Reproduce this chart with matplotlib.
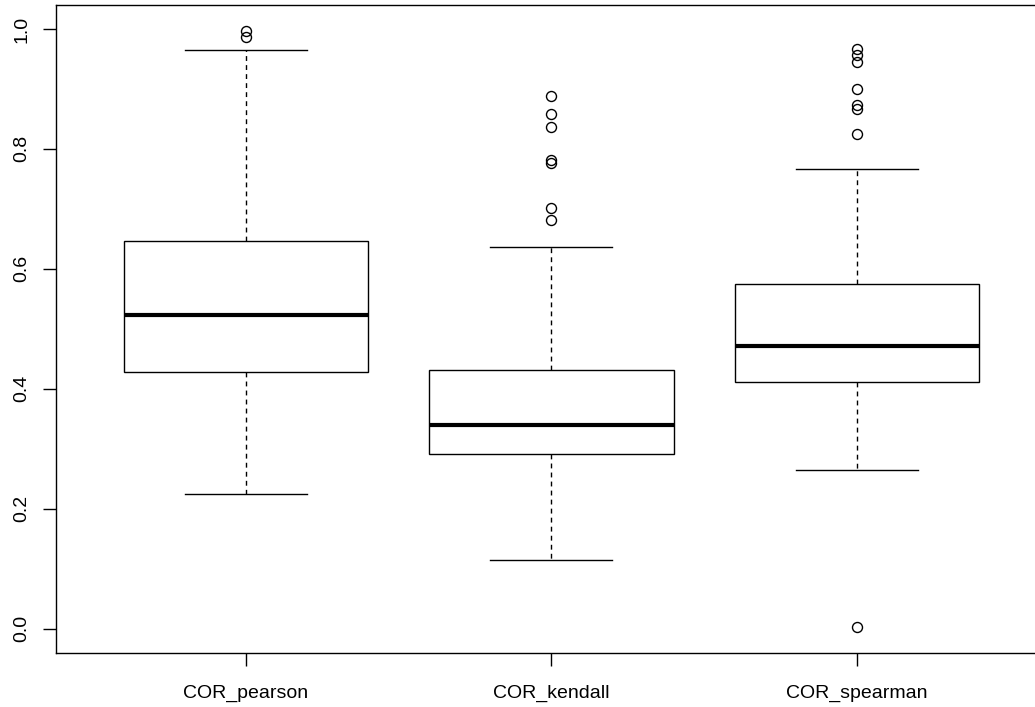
import matplotlib
matplotlib.use("Agg")
import matplotlib.pyplot as plt

plt.rcParams['font.family'] = ['Liberation Sans', 'DejaVu Sans']

# boxplot summary of the three correlation measures
labels = ['COR_pearson', 'COR_kendall', 'COR_spearman']
whis_lo = [0.224, 0.114, 0.265]
q1 = [0.428, 0.291, 0.411]
median = [0.523, 0.340, 0.472]
q3 = [0.646, 0.431, 0.575]
whis_hi = [0.965, 0.636, 0.766]
fliers_pearson = [0.996, 0.987]
fliers_kendall = [0.889, 0.858, 0.836, 0.782, 0.776, 0.702, 0.682]
fliers_spearman = [0.966, 0.957, 0.945, 0.900, 0.873, 0.867, 0.825, 0.003]
fliers = [fliers_pearson, fliers_kendall, fliers_spearman]

stats = []
for i in range(len(labels)):
    stats.append({'label': labels[i], 'whislo': whis_lo[i], 'q1': q1[i],
                  'med': median[i], 'q3': q3[i], 'whishi': whis_hi[i],
                  'fliers': fliers[i]})

fig = plt.figure(figsize=(10.35, 7.07), dpi=100)
# frame runs past the right edge like the R device output
ax = fig.add_axes([56.3 / 1035, (707 - 652.7) / 707, 990 / 1035, 647.7 / 707])

ax.bxp(stats, positions=[1, 2, 3], widths=0.8, capwidths=0.4, patch_artist=True,
       boxprops=dict(facecolor='white', edgecolor='black', linewidth=1.0),
       medianprops=dict(color='black', linewidth=3.0, solid_capstyle='butt'),
       whiskerprops=dict(color='black', linewidth=1.0, linestyle=(0, (3.5, 3))),
       capprops=dict(color='black', linewidth=1.0),
       flierprops=dict(marker='o', markerfacecolor='none', markeredgecolor='black',
                       markersize=7.2, markeredgewidth=1.0))

ax.set_xlim(0.38, 3.62)
ax.set_ylim(-0.04, 1.04)
ax.set_yticks([0.0, 0.2, 0.4, 0.6, 0.8, 1.0])
ax.set_yticklabels(['0.0', '0.2', '0.4', '0.6', '0.8', '1.0'], rotation=90, va='center')
ax.set_xticks([1, 2, 3])
ax.set_xticklabels(labels)
ax.tick_params(axis='both', length=9.4, width=1.0, labelsize=14, color='black')
ax.tick_params(axis='y', pad=9)
ax.tick_params(axis='x', pad=13.5)

for side in ['left', 'right', 'top', 'bottom']:
    ax.spines[side].set_linewidth(1.0)
    ax.spines[side].set_color('black')

fig.savefig('out.png', dpi=100)
